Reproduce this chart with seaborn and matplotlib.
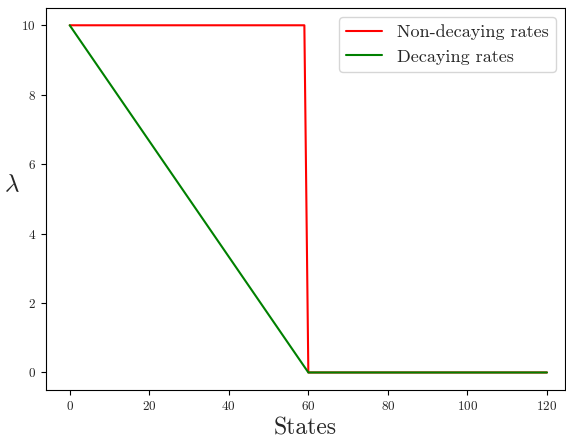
import matplotlib
matplotlib.use("Agg")
import matplotlib.pyplot as plt
import seaborn as sns
import pandas as pd

# Data
nondecay_states = [0, 59, 60, 120]
nondecay_rates = [10, 10, 0, 0]
decay_states = [0, 60, 120]
decay_rates = [10, 0, 0]

sns.set_style("ticks")
plt.rcParams['font.family'] = ['cmr10', 'DejaVu Serif']
plt.rcParams['mathtext.fontset'] = 'cm'
plt.rcParams['axes.formatter.use_mathtext'] = True

df1 = pd.DataFrame({"States": nondecay_states, "rate": nondecay_rates})
df2 = pd.DataFrame({"States": decay_states, "rate": decay_rates})

fig = plt.figure(figsize=(5.66, 4.4), dpi=100)
ax = fig.add_axes([0.081, 0.114, 0.917, 0.868])
sns.lineplot(data=df1, x="States", y="rate", color="red", label="Non-decaying rates", ax=ax, linewidth=1.5)
sns.lineplot(data=df2, x="States", y="rate", color="green", label="Decaying rates", ax=ax, linewidth=1.5)

ax.set_xlim(-6, 124.5)
ax.set_ylim(-0.5, 10.5)
ax.set_xticks([0, 20, 40, 60, 80, 100, 120])
ax.set_yticks([0, 2, 4, 6, 8, 10])
ax.tick_params(labelsize=9.5, direction='out', length=3.5, width=0.8, color='black')
for s in ax.spines.values():
    s.set_visible(True)
    s.set_color('black')
    s.set_linewidth(0.8)
ax.set_xlabel("States", fontsize=17, labelpad=3.5)
ax.set_ylabel(r"$\lambda$", fontsize=18, rotation=0, va='center', ha='center')
ax.yaxis.set_label_coords(-0.065, 0.535)
ax.legend(fontsize=13, loc='upper right', frameon=True, framealpha=0.8, edgecolor='#cccccc', fancybox=True)

fig.savefig("out.png", dpi=100)
